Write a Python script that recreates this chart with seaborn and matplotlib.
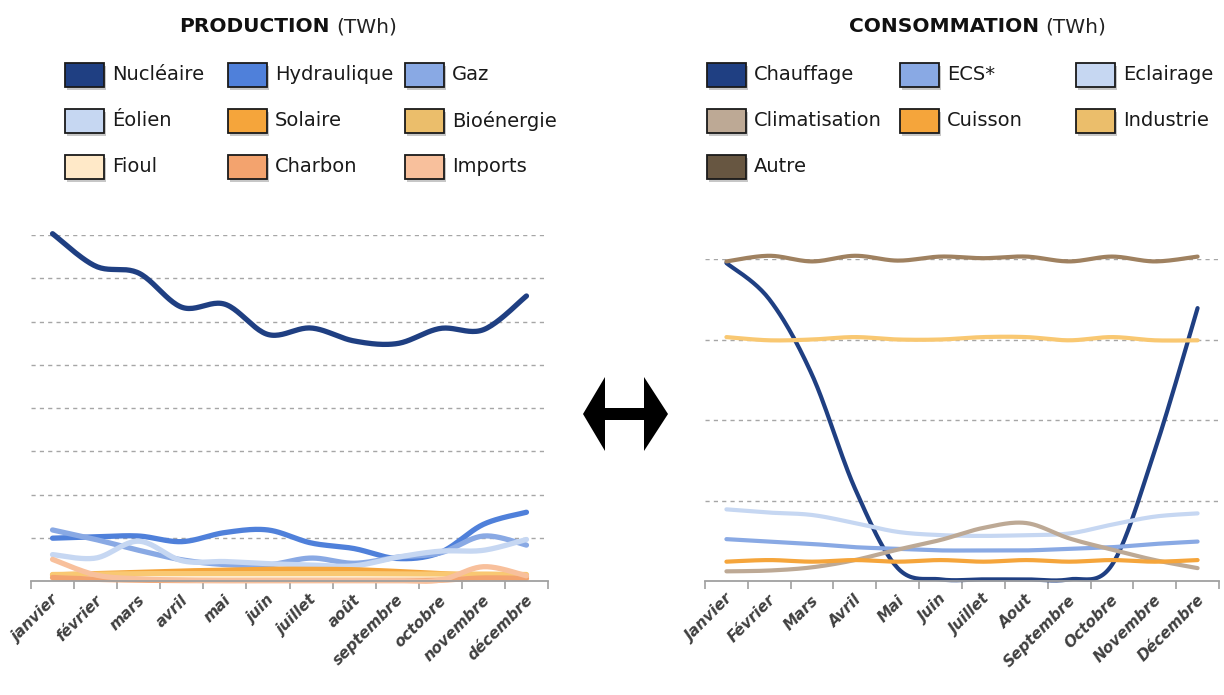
import numpy as np
import pandas as pd
import matplotlib
matplotlib.use("Agg")
import matplotlib.pyplot as plt
import seaborn as sns
from matplotlib.patches import Rectangle, Polygon
from matplotlib.transforms import ScaledTranslation

# ---------------------------------------------------------------- data
mois_prod = ["janvier", "février", "mars", "avril", "mai", "juin", "juillet",
             "août", "septembre", "octobre", "novembre", "décembre"]
mois_conso = ["Janvier", "Février", "Mars", "Avril", "Mai", "Juin", "Juillet",
              "Aout", "Septembre", "Octobre", "Novembre", "Décembre"]

# Production (TWh)
nucleaire = [8.03, 7.28, 7.12, 6.33, 6.40, 5.70, 5.85, 5.55, 5.49, 5.84, 5.81, 6.59]
hydraulique = [0.99, 1.02, 1.04, 0.91, 1.12, 1.18, 0.88, 0.75, 0.52, 0.66, 1.31, 1.59]
gaz = [1.18, 0.96, 0.71, 0.49, 0.38, 0.37, 0.53, 0.41, 0.55, 0.65, 1.04, 0.83]
eolien = [0.61, 0.53, 0.92, 0.47, 0.45, 0.40, 0.37, 0.35, 0.55, 0.69, 0.71, 0.96]
solaire = [0.14, 0.17, 0.20, 0.23, 0.25, 0.27, 0.27, 0.26, 0.22, 0.17, 0.12, 0.11]
bioenergie = [0.15, 0.16, 0.17, 0.17, 0.17, 0.17, 0.17, 0.17, 0.16, 0.16, 0.16, 0.15]
fioul = [0.06, 0.05, 0.04, 0.04, 0.04, 0.04, 0.04, 0.04, 0.04, 0.04, 0.05, 0.06]
charbon = [0.08, 0.04, 0.02, 0.01, 0.01, 0.01, 0.01, 0.01, 0.01, 0.02, 0.07, 0.06]
imports = [0.50, 0.14, 0.05, 0.02, 0.01, 0.01, 0.01, 0.01, 0.01, 0.02, 0.33, 0.12]

# Consommation (TWh)
chauffage = [3.95, 3.50, 2.56, 1.15, 0.16, 0.02, 0.02, 0.02, 0.02, 0.20, 1.62, 3.39]
ecs = [0.52, 0.49, 0.46, 0.42, 0.40, 0.38, 0.38, 0.38, 0.40, 0.42, 0.46, 0.49]
eclairage = [0.89, 0.85, 0.82, 0.72, 0.61, 0.57, 0.56, 0.57, 0.59, 0.70, 0.80, 0.84]
climatisation = [0.12, 0.13, 0.17, 0.26, 0.39, 0.51, 0.66, 0.72, 0.53, 0.39, 0.26, 0.16]
cuisson = [0.24, 0.26, 0.24, 0.26, 0.24, 0.26, 0.24, 0.26, 0.24, 0.26, 0.24, 0.26]
industrie = [3.03, 2.99, 3.00, 3.03, 3.00, 3.00, 3.03, 3.03, 2.99, 3.03, 2.99, 2.99]
autre = [3.97, 4.04, 3.97, 4.04, 3.98, 4.03, 4.01, 4.03, 3.97, 4.03, 3.97, 4.03]

prod_series = {
    "Nucléaire": nucleaire, "Hydraulique": hydraulique, "Gaz": gaz,
    "Éolien": eolien, "Solaire": solaire, "Bioénergie": bioenergie,
    "Fioul": fioul, "Charbon": charbon, "Imports": imports,
}
conso_series = {
    "Chauffage": chauffage, "ECS*": ecs, "Eclairage": eclairage,
    "Climatisation": climatisation, "Cuisson": cuisson,
    "Industrie": industrie, "Autre": autre,
}

# ---------------------------------------------------------------- styles
prod_colors = {
    "Nucléaire": "#1F3F82", "Hydraulique": "#4F80DA", "Gaz": "#89A9E4",
    "Éolien": "#C6D7F2", "Solaire": "#F5A53B", "Bioénergie": "#EBBE6B",
    "Fioul": "#FFE9C8", "Charbon": "#F3A36E", "Imports": "#F8C09C",
}
prod_line_colors = dict(prod_colors, **{"Bioénergie": "#F9C872"})
conso_colors = {
    "Chauffage": "#1F3F82", "ECS*": "#89A9E4", "Eclairage": "#C6D7F2",
    "Climatisation": "#BDA995", "Cuisson": "#F5A53B", "Industrie": "#EBBE6B",
    "Autre": "#675641",
}
conso_line_colors = dict(conso_colors, **{"Industrie": "#F9C872",
                                          "Autre": "#9F8160"})

W, H = 1224, 695
sns.set_theme(style="white")
plt.rcParams["font.family"] = ["DejaVu Sans"]


def smooth(values, steps=24):
    """Smoothed curve through every monthly point (cubic Bezier segments)."""
    y = np.asarray(values, float)
    x = np.arange(len(y), dtype=float)
    n = len(y)
    xs, ys = [], []
    for i in range(n - 1):
        i0, i3 = max(i - 1, 0), min(i + 2, n - 1)
        p0 = np.array([x[i], y[i]])
        p3 = np.array([x[i + 1], y[i + 1]])
        c1 = p0 + (p3 - np.array([x[i0], y[i0]])) / 6.0
        c2 = p3 - (np.array([x[i3], y[i3]]) - p0) / 6.0
        t = np.linspace(0, 1, steps, endpoint=(i == n - 2))[:, None]
        pts = ((1 - t) ** 3) * p0 + 3 * ((1 - t) ** 2) * t * c1 \
            + 3 * (1 - t) * t ** 2 * c2 + t ** 3 * p3
        xs.append(pts[:, 0])
        ys.append(pts[:, 1])
    return np.concatenate(xs), np.concatenate(ys)


def long_frame(series):
    frames = []
    for name, vals in series.items():
        sx, sy = smooth(vals)
        frames.append(pd.DataFrame({"mois": sx, "TWh": sy, "serie": name}))
    return pd.concat(frames, ignore_index=True)


def fig_box(px0, py0, px1, py1):
    return [px0 / W, 1 - py1 / H, (px1 - px0) / W, (py1 - py0) / H]


fig = plt.figure(figsize=(W / 100, H / 100), dpi=100)
fig.patch.set_facecolor("white")

ax_p = fig.add_axes(fig_box(31, 235, 548, 581))
ax_c = fig.add_axes(fig_box(705, 259, 1219, 581))


def draw_panel(ax, series, colors, labels, ymax, lw):
    df = long_frame(series)
    sns.lineplot(data=df, x="mois", y="TWh", hue="serie",
                 hue_order=list(series.keys()), palette=colors,
                 sort=False, estimator=None, linewidth=lw,
                 legend=False, ax=ax)
    for ln in ax.lines:
        ln.set_solid_capstyle("round")
        ln.set_clip_on(False)
    ax.set_xlim(-0.5, 11.5)
    ax.set_ylim(0, ymax)
    ax.set_xlabel("")
    ax.set_ylabel("")
    ax.set_yticks(np.arange(1, ymax + 1))
    ax.tick_params(axis="y", length=0, labelleft=False)
    ax.yaxis.grid(True, linestyle=(0, (3, 3)), color="#A6A6A6", linewidth=1.0)
    ax.xaxis.grid(False)
    for side in ("left", "right", "top"):
        ax.spines[side].set_visible(False)
    ax.spines["bottom"].set_color("#A0A0A0")
    ax.spines["bottom"].set_linewidth(1.3)
    ax.set_xticks(np.arange(12))
    ax.set_xticks(np.arange(-0.5, 12, 1), minor=True)
    ax.set_xticklabels(labels, rotation=45, ha="right", va="center",
                       rotation_mode="anchor", fontsize=11,
                       fontweight="bold", fontstyle="italic", color="#404040")
    ax.tick_params(axis="x", which="major", bottom=True, length=0, pad=12)
    ax.tick_params(axis="x", which="minor", bottom=True, length=6, width=1.2,
                   color="#A0A0A0", direction="out")
    shift = ScaledTranslation(4 / 100, 0, fig.dpi_scale_trans)
    for lab in ax.get_xticklabels():
        lab.set_transform(lab.get_transform() + shift)


draw_panel(ax_p, prod_series, prod_line_colors, mois_prod, 8, 3.8)
draw_panel(ax_c, conso_series, conso_line_colors, mois_conso, 4, 3.0)


# ---------------------------------------------------------------- titles
def title(px_split, text_bold, text_rest):
    y = 1 - 27 / H
    fig.text(px_split / W, y, text_bold, ha="right", va="center",
             fontsize=14.5, fontweight="bold", color="#111111")
    fig.text((px_split + 6) / W, y, text_rest, ha="left", va="center",
             fontsize=14.5, color="#222222")


title(330, "PRODUCTION", "(TWh)")
title(1039, "CONSOMMATION", "(TWh)")


# ---------------------------------------------------------------- legends
def legend_grid(names, colors, col_x, row_y):
    for k, name in enumerate(names):
        px = col_x[k % 3]
        py = row_y[k // 3]
        w, h = 39, 24
        fig.patches.append(Rectangle(((px + 2) / W, 1 - (py + h / 2 + 3) / H),
                                     w / W, h / H, transform=fig.transFigure,
                                     facecolor="#000000", alpha=0.22,
                                     edgecolor="none", zorder=1))
        fig.patches.append(Rectangle((px / W, 1 - (py + h / 2) / H),
                                     w / W, h / H, transform=fig.transFigure,
                                     facecolor=colors[name],
                                     edgecolor="#1A1A1A", linewidth=1.3,
                                     zorder=2))
        fig.text((px + w + 8) / W, 1 - py / H, name, ha="left", va="center",
                 fontsize=14, color="#1A1A1A")


legend_grid(list(prod_series.keys()), prod_colors,
            [65, 228, 405], [75, 121, 167])
legend_grid(list(conso_series.keys()), conso_colors,
            [707, 900, 1076], [75, 121, 167])

# ---------------------------------------------------------------- double arrow
arrow_px = [(583, 414), (605, 377), (605, 408), (644, 408), (644, 377),
            (668, 414), (644, 451), (644, 420), (605, 420), (605, 451)]
fig.patches.append(Polygon([(x / W, 1 - y / H) for x, y in arrow_px],
                           closed=True, transform=fig.transFigure,
                           facecolor="black", edgecolor="none"))

fig.savefig("out.png", dpi=100, facecolor="white")
